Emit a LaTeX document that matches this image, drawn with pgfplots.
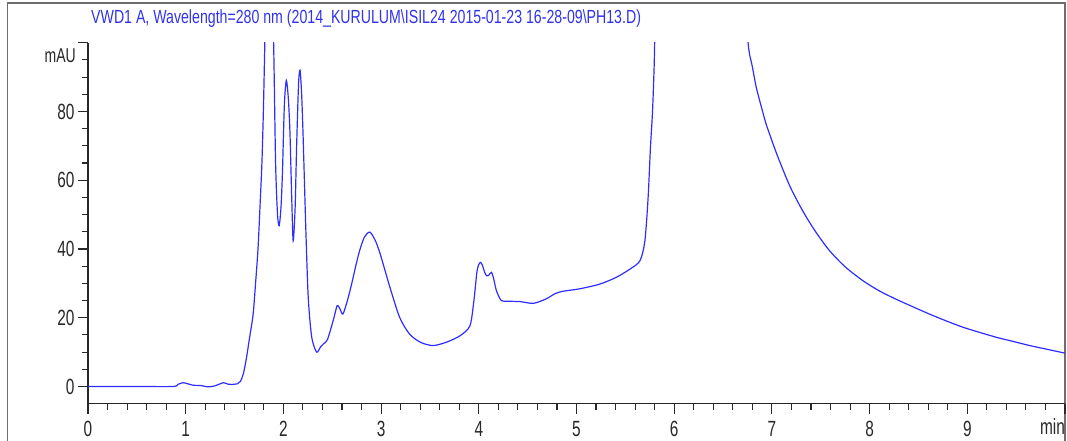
\documentclass[border=0pt]{standalone}
\usepackage{fontspec}
\setmainfont{Liberation Sans}
\newfontfamily\narrowfont[FakeStretch=0.7]{Liberation Sans}
\newfontfamily\titlefont[FakeStretch=0.745]{Liberation Sans}
\usepackage{pgfplots}
\pgfplotsset{compat=1.18}
\definecolor{trace}{RGB}{45,45,255}
\definecolor{titleblue}{RGB}{50,50,235}
\definecolor{axisgray}{RGB}{40,40,40}
\definecolor{framegray}{RGB}{110,110,110}

\begin{document}
\begin{tikzpicture}[x=1pt,y=1pt]
\useasboundingbox (0,0) rectangle (1067,441);
% outer frame of the report panel
\draw[framegray, line width=1.5pt] (7.5,-2) -- (7.5,438) -- (1065,438) -- (1065,-2);
% signal description
\node[anchor=base west, inner sep=0pt, text=titleblue, font=\titlefont\fontsize{19}{19}\selectfont]
  at (91,417) {VWD1 A, Wavelength=280 nm (2014\_KURULUM\textbackslash ISIL24 2015-01-23 16-28-09\textbackslash PH13.D)};
\begin{axis}[
  at={(88pt,37.3pt)}, anchor=south west,
  scale only axis, width=977pt, height=361pt,
  xmin=0, xmax=10, ymin=-5, ymax=100,
  axis x line=bottom, axis y line=left,
  axis line style={axisgray, line width=1.2pt, -},
  tick align=outside,
  major tick length=10pt, minor tick length=6pt,
  every tick/.style={axisgray, line width=1.1pt},
  xtick={0,1,2,3,4,5,6,7,8,9,10},
  xticklabels={0,1,2,3,4,5,6,7,8,9,},
  minor x tick num=4,
  ytick={0,20,40,60,80,100},
  yticklabels={0,20,40,60,80,},
  minor y tick num=3,
  /pgf/number format/assume math mode=true,
  ticklabel style={font=\narrowfont\fontsize{22}{22}\selectfont, text=axisgray},
  xticklabel style={yshift=-4pt},
  clip=true,
]
\addplot[trace, line width=1.2pt, smooth, tension=0.45] coordinates {
(0,0) (0.5,0) (0.87,0) (0.92,0.6) (0.97,1.1) (1.02,0.8) (1.08,0.35) (1.15,0.3)
(1.23,-0.1) (1.30,0.2) (1.385,1.1) (1.43,0.7) (1.47,0.6) (1.53,0.8) (1.56,1.5)
(1.59,3.7) (1.62,8) (1.65,13.5) (1.69,21) (1.715,30) (1.74,40) (1.76,52)
(1.78,65) (1.795,80) (1.81,100) (1.84,140) (1.87,140) (1.90,100) (1.92,65) (1.94,50)
(1.957,46.8) (1.975,52) (1.99,62) (2.01,82) (2.03,89) (2.05,84) (2.067,74)
(2.085,55) (2.10,42.4) (2.12,52) (2.135,69.6) (2.155,88) (2.17,92) (2.185,86)
(2.20,74.4) (2.23,45.3) (2.254,26) (2.29,14.3) (2.34,10) (2.38,11.5) (2.41,12.4)
(2.45,13.6) (2.51,19.2) (2.55,23.5) (2.58,22.5) (2.61,21.1) (2.66,25.5) (2.70,30)
(2.74,35) (2.78,39.5) (2.83,43.5) (2.885,44.9) (2.94,42.5) (2.99,38.6) (3.09,28.9)
(3.19,20.1) (3.29,15.3) (3.40,12.9) (3.53,11.9) (3.67,12.9) (3.81,14.8)
(3.91,17.7) (3.95,25) (3.98,33.2) (4.00,35.5) (4.02,36.1) (4.04,35) (4.06,33.2)
(4.08,32.2) (4.10,32.3) (4.13,33.2) (4.155,31) (4.18,27.9) (4.23,25) (4.30,24.8)
(4.42,24.7) (4.56,24.2) (4.69,25.5) (4.78,27) (4.86,27.7) (5.03,28.4) (5.24,29.8)
(5.41,31.8) (5.55,34.2) (5.65,36.6) (5.70,42.4) (5.733,55) (5.757,69.6)
(5.777,79.3) (5.79,89) (5.80,100) (5.83,150) (6.0,300) (6.5,300) (6.70,125)
(6.756,100) (6.80,93) (6.84,87) (6.90,80.5) (6.94,76.4) (7.00,71.5) (7.05,67.6)
(7.10,64) (7.15,60.5) (7.20,57.3) (7.28,52.9) (7.35,49.4) (7.45,44.9) (7.59,39.5)
(7.75,34.8) (7.93,30.8) (8.10,27.8) (8.27,25.4) (8.45,23.1) (8.61,21.1) (8.80,18.9)
(8.96,17.2) (9.13,15.7) (9.30,14.3) (9.47,13.1) (9.64,11.9) (9.82,10.8) (10.0,9.7)
};
\end{axis}
\node[anchor=base east, inner sep=0pt, text=axisgray, font=\narrowfont\fontsize{20}{20}\selectfont] at (76,378) {mAU};
\node[anchor=base east, inner sep=0pt, text=axisgray, font=\narrowfont\fontsize{22}{22}\selectfont] at (1065,6) {min};
\end{tikzpicture}
\end{document}
